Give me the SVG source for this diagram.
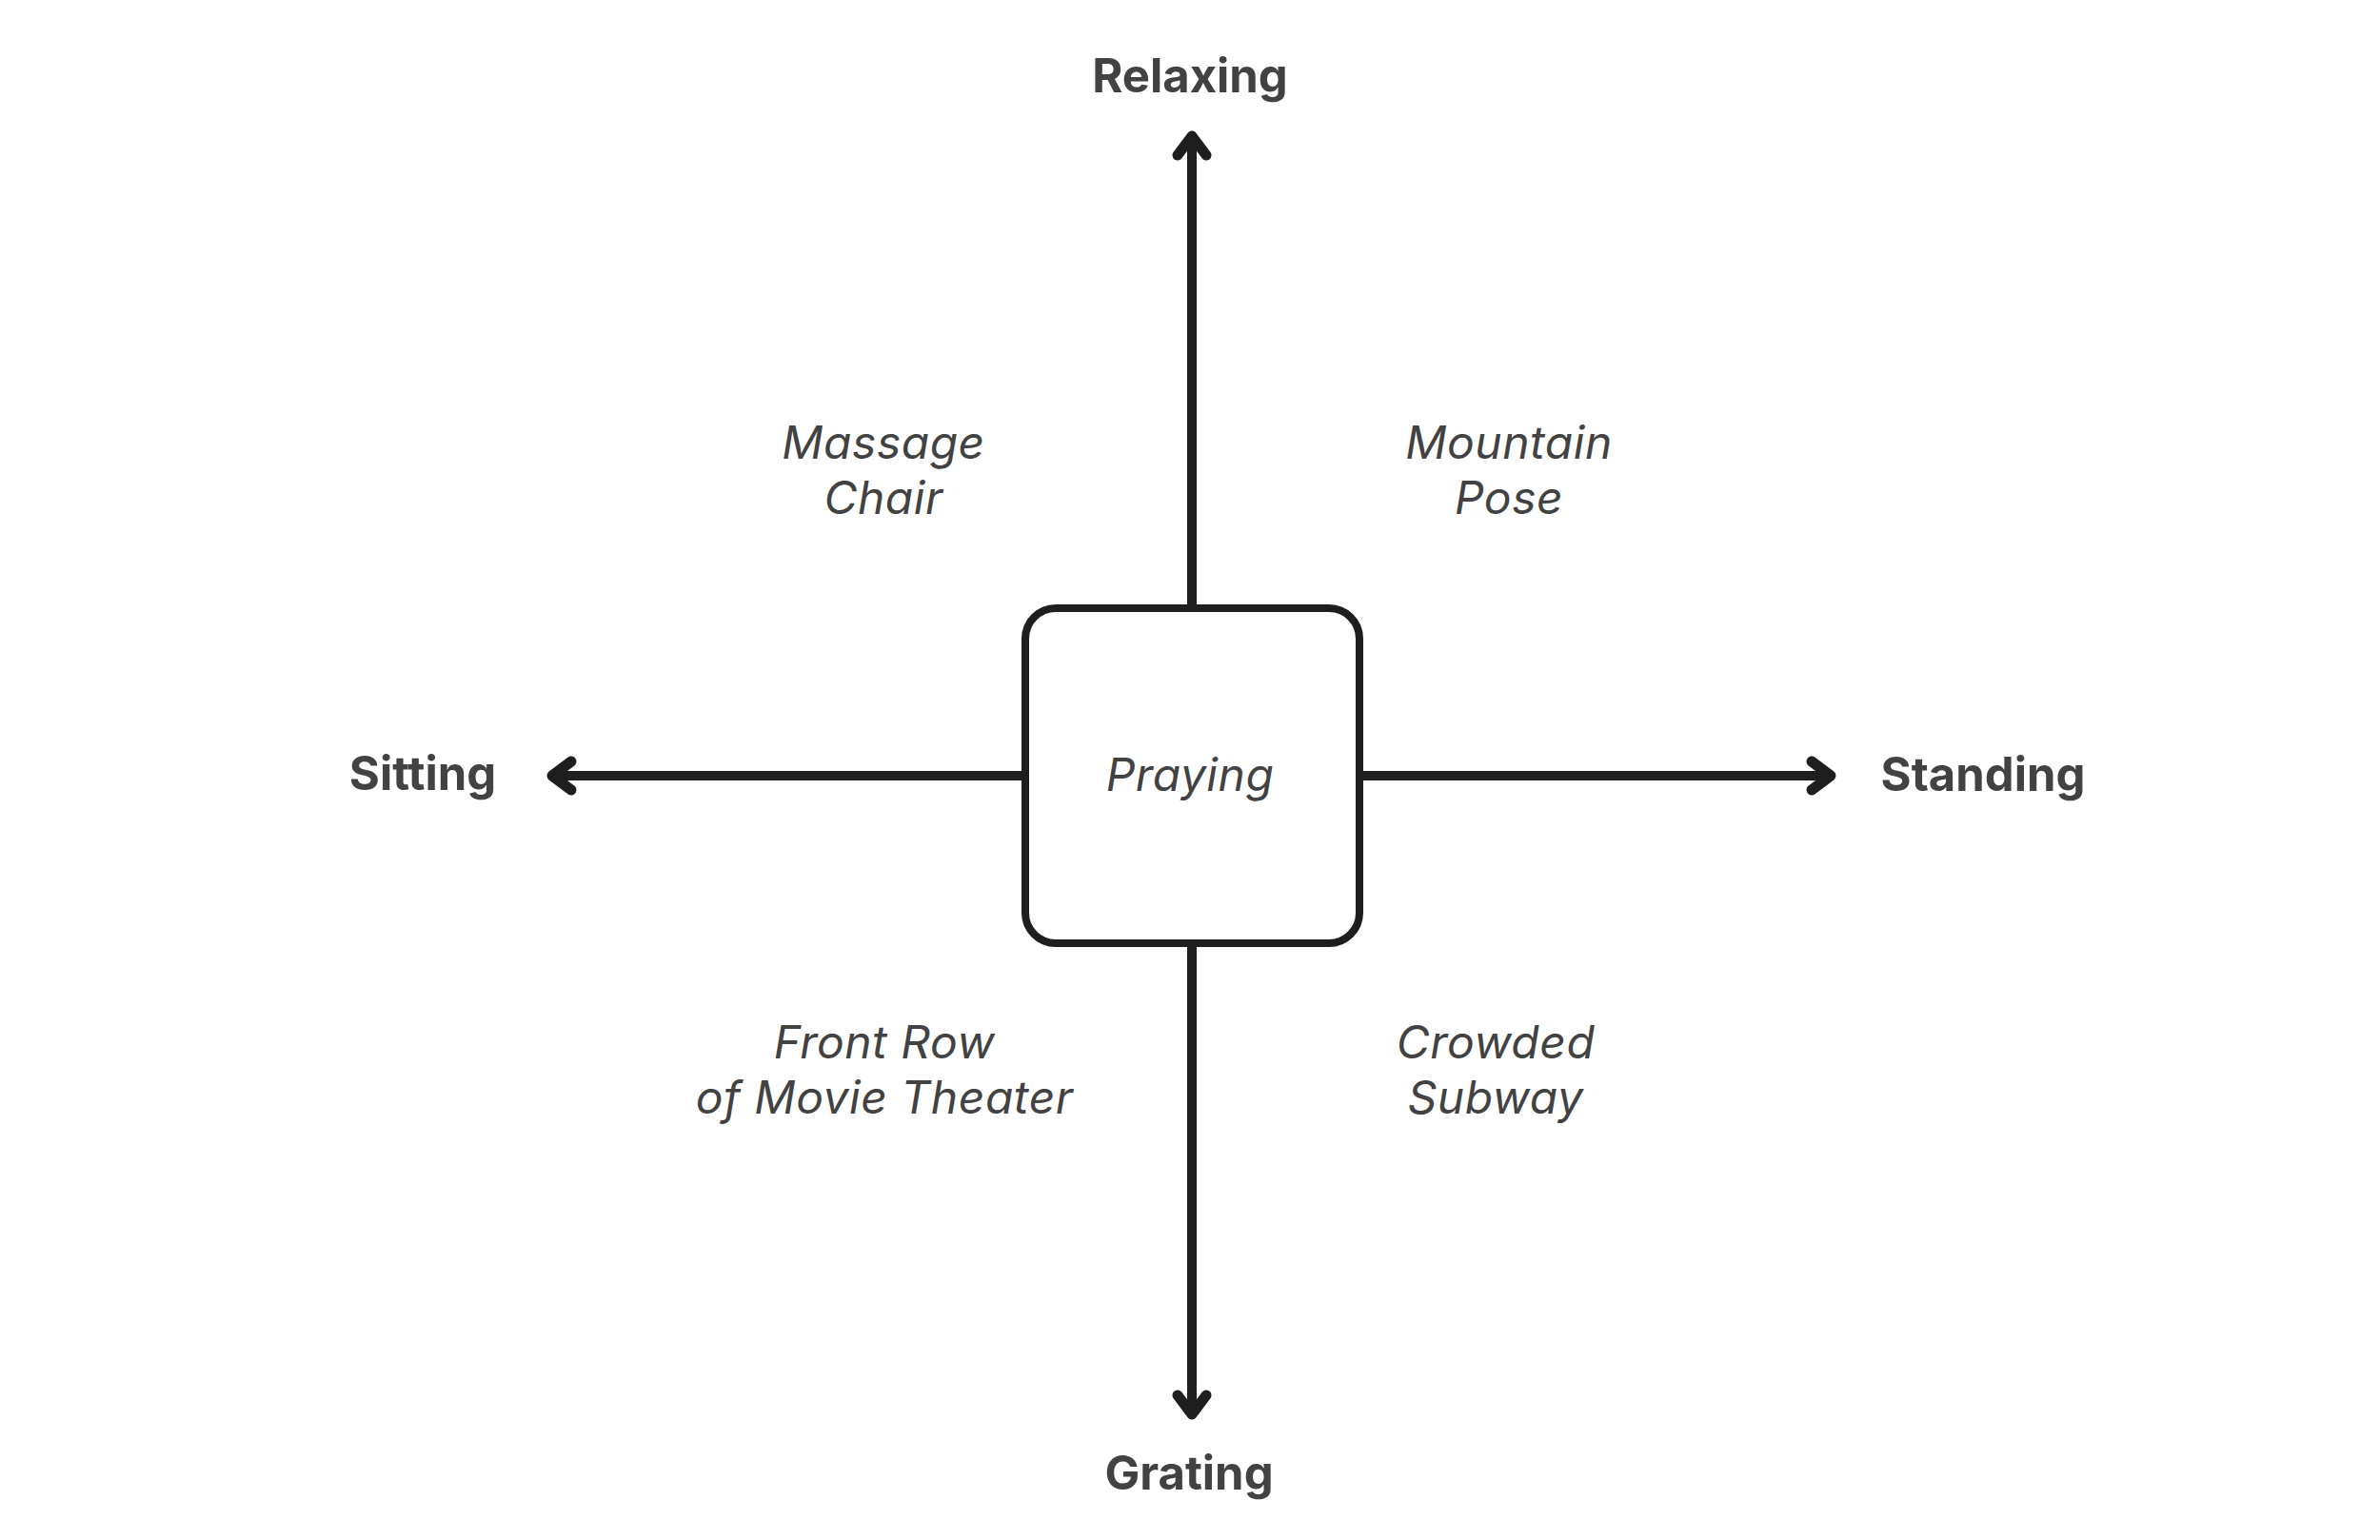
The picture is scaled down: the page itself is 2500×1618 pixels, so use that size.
<svg xmlns="http://www.w3.org/2000/svg" width="2500" height="1618" viewBox="0 0 2500 1618">
<defs>
<style>
.axis{font-family:Inter,"Liberation Sans",sans-serif;font-weight:700;font-size:49px;fill:#424242;text-anchor:middle}
.item{font-family:Inter,"Liberation Sans",sans-serif;font-style:italic;font-size:48px;letter-spacing:0.5px;fill:#424242;text-anchor:middle}
.conn{stroke:#1e1e1e;stroke-width:10;fill:none}
</style>
<marker id="arr" markerUnits="userSpaceOnUse" viewBox="-40 -30 50 60" refX="0" refY="0" markerWidth="50" markerHeight="60" orient="auto" overflow="visible">
<path d="M-20,-15 L0,0 L-20,15" fill="none" stroke="#1e1e1e" stroke-width="11" stroke-linecap="round" stroke-linejoin="round"/>
</marker>
</defs>
<rect width="2500" height="1618" fill="#ffffff"/>
<g id="connectors">
<line class="conn" x1="1252" y1="635" x2="1252" y2="143" marker-end="url(#arr)"/>
<line class="conn" x1="1252" y1="995" x2="1252" y2="1486" marker-end="url(#arr)"/>
<line class="conn" x1="1073" y1="815" x2="580" y2="815" marker-end="url(#arr)"/>
<line class="conn" x1="1432" y1="815" x2="1923" y2="815" marker-end="url(#arr)"/>
</g>
<g id="praying">
<rect x="1077" y="639" width="351" height="352" rx="32" ry="32" fill="#ffffff" stroke="#1e1e1e" stroke-width="8"/>
<text class="item" x="1250" y="831">Praying</text>
</g>
<g id="relaxing"><text class="axis" x="1250" y="97">Relaxing</text></g>
<g id="grating"><text class="axis" x="1249" y="1565">Grating</text></g>
<g id="sitting"><text class="axis" x="444" y="830">Sitting</text></g>
<g id="standing"><text class="axis" x="2083" y="831">Standing</text></g>
<g id="massage-chair"><text class="item" x="928" y="482">Massage</text><text class="item" x="928" y="540">Chair</text></g>
<g id="mountain-pose"><text class="item" x="1585" y="482">Mountain</text><text class="item" x="1585" y="540">Pose</text></g>
<g id="front-row"><text class="item" x="929" y="1112">Front Row</text><text class="item" x="929" y="1170">of Movie Theater</text></g>
<g id="crowded-subway"><text class="item" x="1571" y="1112">Crowded</text><text class="item" x="1571" y="1170">Subway</text></g>
</svg>
